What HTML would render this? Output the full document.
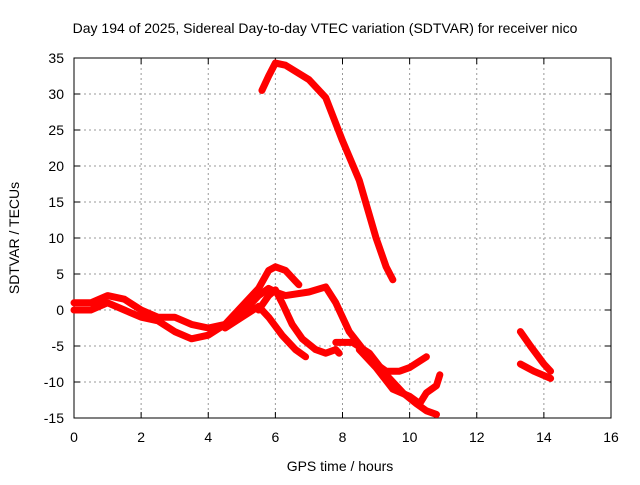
<!DOCTYPE html>
<html><head><meta charset="utf-8"><style>
body{margin:0;background:#fff;width:640px;height:480px;overflow:hidden}
text{font-family:"Liberation Sans",sans-serif;font-size:14px;fill:#000}
</style></head><body>
<svg width="640" height="480">
<g id="grid"></g>
<g id="axes"></g>
<g id="series"></g>
<text x="325" y="33" text-anchor="middle">Day 194 of 2025, Sidereal Day-to-day VTEC variation (SDTVAR) for receiver nico</text>
<text x="340" y="471" text-anchor="middle">GPS time / hours</text>
<text transform="translate(19,238) rotate(-90)" text-anchor="middle">SDTVAR / TECUs</text>
</svg>
<script>
const xTicks=[0,2,4,6,8,10,12,14,16];
const yTicks=[-15,-10,-5,0,5,10,15,20,25,30,35];
const traceA=[[5.6,30.5],[5.8,32.5],[6.0,34.3],[6.3,34],[7,32],[7.5,29.5],[8,23.5],[8.5,18],[9,10],[9.3,6],[9.5,4.2]];
const traceB1=[[0,1],[0.5,1],[1,2],[1.5,1.5],[2,0],[2.5,-1],[3,-1],[3.5,-2],[4,-2.5],[4.5,-2],[5,0.5],[5.5,3],[5.8,5.5],[6,6],[6.3,5.5],[6.6,4],[6.7,3.5]];
const traceB2=[[0,0],[0.5,0],[1,1],[1.5,0],[2,-1],[2.5,-1.5],[3,-3],[3.5,-4],[4,-3.5],[4.5,-2],[5,-0.5],[5.5,2],[5.8,3],[6,2.5],[6.3,2],[7,2.5],[7.5,3.2],[7.8,1],[8.2,-3],[8.7,-6],[9,-7.5],[9.3,-8.5],[9.7,-8.5],[10,-8],[10.5,-6.5]];
const traceB3=[[5.5,0],[5.8,2],[6,2.8],[6.2,1],[6.5,-2],[6.8,-4],[7.2,-5.5],[7.5,-6],[7.8,-5.5],[7.9,-6]];
const traceB4=[[4.5,-2.5],[5,-1],[5.5,0.5],[5.8,-1],[6.2,-3.5],[6.6,-5.5],[6.9,-6.5]];
const traceB5=[[7.8,-4.5],[8.3,-4.5],[8.8,-6],[9.3,-9],[9.8,-11.5],[10.2,-13],[10.5,-14],[10.8,-14.5]];
const traceB6=[[8.5,-5.5],[9,-8],[9.5,-11],[10,-12],[10.3,-13],[10.5,-11.5],[10.8,-10.5],[10.9,-9]];
const traceC1=[[13.3,-3],[13.6,-5],[14,-7.5],[14.2,-8.5]];
const traceC2=[[13.3,-7.5],[13.7,-8.5],[14.2,-9.5]];
const traces=[traceA,traceB1,traceB2,traceB3,traceB4,traceB5,traceB6,traceC1,traceC2];
const X0=74,X1=611,Y0=418,Y1=58;
const sx=v=>X0+(v-0)/(16-0)*(X1-X0);
const sy=v=>Y0-(v+15)/(50)*(Y0-Y1);
const NS="http://www.w3.org/2000/svg";
function mk(t,a,p){const e=document.createElementNS(NS,t);for(const k in a)e.setAttribute(k,a[k]);p.appendChild(e);return e;}
const grid=document.getElementById('grid'),axes=document.getElementById('axes'),ser=document.getElementById('series');
xTicks.forEach(t=>{const x=sx(t);
 if(t>0&&t<16){const l=mk('line',{x1:x,x2:x,y1:Y1,y2:Y0,stroke:'#999','stroke-dasharray':'2,3'},grid);
 }
 mk('line',{x1:x,x2:x,y1:Y0,y2:Y0-6,stroke:'#000'},axes);mk('line',{x1:x,x2:x,y1:Y1,y2:Y1+6,stroke:'#000'},axes);
 const tx=mk('text',{x:x,y:Y0+24,'text-anchor':'middle'},axes);tx.textContent=t;
 });
yTicks.forEach(t=>{const y=sy(t);
 if(t>-15&&t<35){const l=mk('line',{x1:X0,x2:X1,y1:y,y2:y,stroke:'#999','stroke-dasharray':'2,3'},grid);
 }
 mk('line',{x1:X0,x2:X0+6,y1:y,y2:y,stroke:'#000'},axes);mk('line',{x1:X1,x2:X1-6,y1:y,y2:y,stroke:'#000'},axes);
 const tx=mk('text',{x:X0-10,y:y+5,'text-anchor':'end'},axes);tx.textContent=t;
 });
mk('rect',{x:X0,y:Y1,width:X1-X0,height:Y0-Y1,fill:'none',stroke:'#000'},axes);
traces.forEach(tr=>{const pl=mk('polyline',{points:tr.map(p=>sx(p[0])+','+sy(p[1])).join(' '),fill:'none',stroke:'#f00','stroke-width':7,'stroke-linejoin':'round','stroke-linecap':'round'},ser);
 });
</script>
</body></html>
